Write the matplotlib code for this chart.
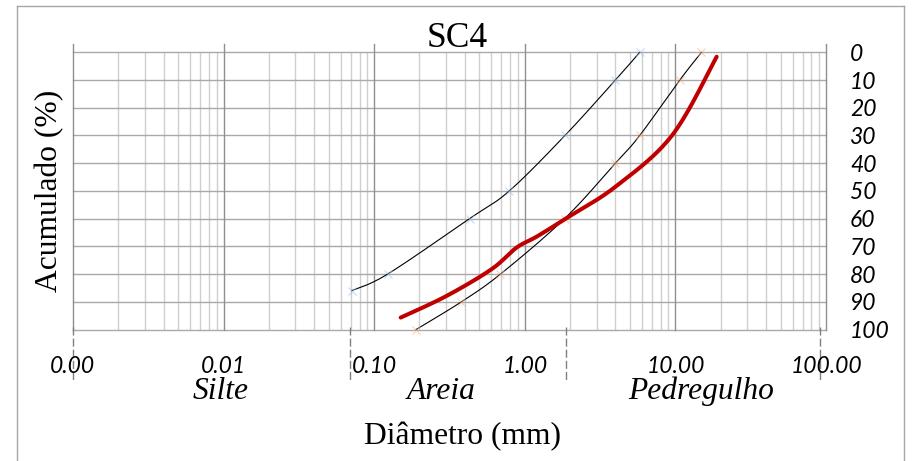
import numpy as np
import matplotlib
matplotlib.use("Agg")
import matplotlib.pyplot as plt
from matplotlib.lines import Line2D

# ─── dados: diâmetro (mm) x % acumulado ────────────────────────
LIM_FINO_D   = [0.071, 0.123, 0.43, 0.79, 1.85, 4.0, 5.8]
LIM_FINO_P   = [86, 80, 60, 50, 30, 10, 0]
LIM_GROSSO_D = [0.19, 0.38, 0.69, 1.84, 4.0, 5.8, 10.7, 14.9]
LIM_GROSSO_P = [100, 90, 80, 60, 40, 30, 10, 0]
AMOSTRA_D    = [0.15, 0.30, 0.60, 0.88, 1.2, 1.87, 4.0, 9.5, 18.8]
AMOSTRA_P    = [95.7, 88.0, 78.3, 70.5, 66.5, 60.0, 48.5, 30.0, 1.6]

X_TICKS    = [0.001, 0.01, 0.1, 1, 10, 100]
X_TICK_LBL = ["0.00", "0.01", "0.10", "1.00", "10.00", "100.00"]
Y_TICKS    = list(range(0, 101, 10))
ZONAS      = ["Silte", "Areia", "Pedregulho"]
ZONAS_X    = [0.0096, 0.277, 14.9]
ZONAS_LIM  = [0.001, 0.069, 1.87, 91]

W, H = 914, 461
SERIF = "Liberation Serif"
SANS  = "Lato"
# ───────────────────────────────────────────────────────────────


def smooth(d, p, n=24):
    # curva suavizada (Catmull-Rom) em log10(d) x p, igual à linha suavizada da planilha
    x = np.log10(np.asarray(d, float))
    y = np.asarray(p, float)
    xp = np.r_[x[0], x, x[-1]]
    yp = np.r_[y[0], y, y[-1]]
    t = np.linspace(0, 1, n)[:, None]
    xs, ys = [], []
    for i in range(1, len(xp) - 2):
        P = np.array([[xp[i - 1], yp[i - 1]], [xp[i], yp[i]],
                      [xp[i + 1], yp[i + 1]], [xp[i + 2], yp[i + 2]]])
        b0, b3 = P[1], P[2]
        b1 = P[1] + (P[2] - P[0]) / 6
        b2 = P[2] - (P[3] - P[1]) / 6
        seg = ((1 - t) ** 3) * b0 + 3 * ((1 - t) ** 2) * t * b1 \
            + 3 * (1 - t) * t ** 2 * b2 + t ** 3 * b3
        xs.append(seg[:, 0]); ys.append(seg[:, 1])
    return 10 ** np.concatenate(xs), np.concatenate(ys)


fig = plt.figure(figsize=(W / 100, H / 100), dpi=100)
ax = fig.add_axes([72.9 / W, 131.5 / H, 753.1 / W, 277.2 / H])
ax.set_xscale("log")
ax.set_xlim(1e-3, 100)
ax.set_ylim(100, 0)
for s in ax.spines.values():
    s.set_visible(False)
ax.tick_params(axis="x", which="both", bottom=False, top=False, labelbottom=False)

# grade
minors = [m * 10.0 ** e for e in range(-3, 2) for m in range(2, 10)]
for v in minors:
    ax.axvline(v, color="#cfcfcf", lw=1.0, zorder=1)
for v in Y_TICKS:
    ax.axhline(v, color="#a9a9a9", lw=1.0, zorder=1.2, clip_on=False)
for v in X_TICKS:
    ax.axvline(v, ymin=0, ymax=1 + 8 / 277.2, color="#8f8f8f", lw=1.0,
               zorder=1.5, clip_on=False)

# eixo y à direita
ax.yaxis.tick_right()
ax.set_yticks(Y_TICKS)
ax.set_yticklabels([str(v) for v in Y_TICKS], fontsize=16.5,
                   fontstyle="italic", family=SANS)
ax.tick_params(axis="y", length=0, pad=17.3)

# rótulos do eixo x
for v, lbl in zip(X_TICKS, X_TICK_LBL):
    ax.text(v, 115.8, lbl, ha="center", va="baseline", fontsize=16.5,
            fontstyle="italic", family=SANS, clip_on=False)

# divisões silte / areia / pedregulho
for v in ZONAS_LIM:
    ax.plot([v, v], [99, 119], ls=(0, (5.8, 2.2)), color="#808080", lw=1.0,
            clip_on=False, zorder=2)
for v, nome in zip(ZONAS_X, ZONAS):
    ax.text(v, 125.0, nome, ha="center", va="baseline", fontsize=22.7,
            fontstyle="italic", family=SERIF, clip_on=False)

# faixas limite
xf, yf = smooth(LIM_FINO_D, LIM_FINO_P)
ax.plot(xf, yf, color="black", lw=0.8, zorder=3, clip_on=False)
ax.plot(LIM_FINO_D, LIM_FINO_P, ls="none", marker="x", ms=6, mew=0.8,
        color="#9dc3e6", alpha=0.6, zorder=3, clip_on=False)
xg, yg = smooth(LIM_GROSSO_D, LIM_GROSSO_P)
ax.plot(xg, yg, color="black", lw=0.8, zorder=3, clip_on=False)
ax.plot(LIM_GROSSO_D, LIM_GROSSO_P, ls="none", marker="x", ms=6, mew=0.8,
        color="#f4b183", alpha=0.6, zorder=3, clip_on=False)

# amostra
xa, ya = smooth(AMOSTRA_D, AMOSTRA_P)
ax.plot(xa, ya, color="#c00000", lw=2.9, solid_capstyle="round", zorder=4,
        clip_on=False)

# títulos
fig.text(457.5 / W, (H - 47) / H, "SC4", ha="center", va="baseline",
         fontsize=25.5, family=SERIF)
fig.text(462.5 / W, (H - 444.3) / H, "Diâmetro (mm)", ha="center",
         va="baseline", fontsize=22.7, family=SERIF)
fig.text(50 / W, (H - 191) / H, "Acumulado (%)", ha="center", va="center",
         rotation=90, fontsize=22.7, family=SERIF)

# moldura
fc = "#a6a6a6"
fig.add_artist(Line2D([17 / W, 904 / W], [(H - 6) / H] * 2, color=fc, lw=1.0))
fig.add_artist(Line2D([17 / W] * 2, [0, (H - 6) / H], color=fc, lw=1.0))
fig.add_artist(Line2D([904 / W] * 2, [0, (H - 6) / H], color=fc, lw=1.0))

fig.savefig("out.png", dpi=100)
